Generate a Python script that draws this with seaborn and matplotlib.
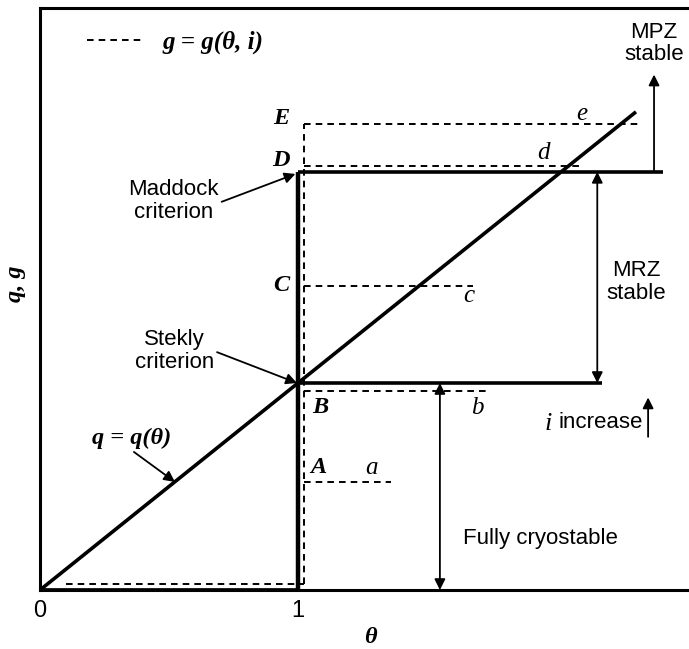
import matplotlib
matplotlib.use("Agg")
import matplotlib.pyplot as plt
from matplotlib.lines import Line2D
import seaborn as sns
import pandas as pd

# --- values -----------------------------------------------------------------
theta_ticks = [0, 1]
tick_labels = ["0", "1"]

# heat removal line q = q(theta)
q_theta = [0.0, 2.31]
q_vals = [0.0, 2.31]

stekly_level = 1.0      # Stekly criterion (B)
maddock_level = 2.02    # Maddock criterion (D)
theta_c = 1.0

# generation curves g = g(theta, i) for increasing current
g_names = ["A", "B", "C", "D", "E"]
g_tags = ["a", "b", "c", "d", "e"]
g_levels = [0.52, 0.96, 1.47, 2.05, 2.25]
g_end = [1.36, 1.73, 1.68, 2.10, 2.33]
g_base = 0.03
g_base_start = 0.10
g_jump = 1.025

# extents of the stability boundaries and zone arrows
stekly_end = 2.18
maddock_end = 2.415
mpz_x, mpz_top = 2.38, 2.49
mrz_x = 2.16
full_x = 1.55

# --- style ------------------------------------------------------------------
sns.set_theme(style="white")
plt.rcParams["font.family"] = ["Liberation Sans", "DejaVu Sans"]
plt.rcParams["text.color"] = "black"
plt.rcParams["axes.labelcolor"] = "black"
plt.rcParams["xtick.color"] = "black"
SANS = dict(family=["Liberation Sans", "DejaVu Sans"], fontsize=16,
            color="black")
SERIF = dict(family=["Liberation Serif", "DejaVu Serif"], style="italic",
             fontweight="bold", fontsize=17.5, color="black")
SERIF_LC = dict(family=["Liberation Serif", "DejaVu Serif"], style="italic",
                fontsize=18, color="black")

W, H = 689, 649
fig = plt.figure(figsize=(W / 100, H / 100), dpi=100)
x_max = 2.65
px_per_unit = 258
ax = fig.add_axes([40 / W, (H - 590) / H, x_max * px_per_unit / W, 582 / H])
ax.set_xlim(0, x_max)
ax.set_ylim(0, 582 / 207)

for side in ["left", "top", "bottom"]:
    ax.spines[side].set_color("black")
    ax.spines[side].set_linewidth(2.2)
ax.spines["right"].set_visible(False)

ax.set_xticks(theta_ticks)
ax.set_xticklabels(tick_labels, family=["Liberation Sans", "DejaVu Sans"],
                   fontsize=17, color="black")
ax.tick_params(axis="x", length=0, pad=7, colors="black")
ax.set_yticks([])

ax.set_xlabel("θ", **SERIF)
ax.xaxis.set_label_coords(1.28 / x_max, -0.063)
ax.set_ylabel("q, g", **SERIF)
ax.yaxis.set_label_coords(-0.02, 0.527)

# --- q = q(theta) -------------------------------------------------------------
sns.lineplot(data=pd.DataFrame({"theta": q_theta, "q": q_vals}),
             x="theta", y="q", ax=ax, color="black", lw=2.6,
             solid_capstyle="butt")

# --- stability boundaries (solid) ---------------------------------------------
solid = dict(color="black", lw=2.6, solid_capstyle="butt")
ax.plot([0, theta_c], [0, 0], color="black", lw=3.4, solid_capstyle="butt")
ax.plot([theta_c, theta_c], [0, maddock_level], color="black", lw=3.2,
        solid_capstyle="butt")
ax.plot([theta_c, stekly_end], [stekly_level, stekly_level], **solid)
ax.plot([theta_c, maddock_end], [maddock_level, maddock_level], **solid)

# --- generation curves (dashed) -------------------------------------------------
dash = dict(color="black", lw=1.4, dashes=(3.4, 2.6))
ax.plot([g_base_start, g_jump], [g_base, g_base], **dash)
ax.plot([g_jump, g_jump], [g_base, max(g_levels)], **dash)
for lvl, xe in zip(g_levels, g_end):
    ax.plot([g_jump, xe], [lvl, lvl], **dash)

# point labels
name_pos = [(1.08, 0.594), (1.085, 0.884), (0.934, 1.469), (0.934, 2.077),
            (0.934, 2.28)]
tag_pos = [(1.283, 0.589), (1.694, 0.879), (1.663, 1.42), (1.95, 2.11),
           (2.10, 2.30)]
for name, (x, y) in zip(g_names, name_pos):
    ax.text(x, y, name, ha="center", va="center", **SERIF)
for tag, (x, y) in zip(g_tags, tag_pos):
    ax.text(x, y, tag, ha="center", va="center", **SERIF_LC)

# --- arrows and annotations -------------------------------------------------------
one = dict(arrowstyle="-|>", color="black", lw=1.3, mutation_scale=16,
           shrinkA=0, shrinkB=0)
two = dict(arrowstyle="<|-|>", color="black", lw=1.3, mutation_scale=16,
           shrinkA=0, shrinkB=0)

ax.annotate("", xy=(mpz_x, mpz_top), xytext=(mpz_x, maddock_level),
            arrowprops=one)
ax.text(mpz_x, 2.64, "MPZ\nstable", ha="center", va="center",
        linespacing=1.12, **SANS)

ax.annotate("", xy=(mrz_x, maddock_level), xytext=(mrz_x, stekly_level),
            arrowprops=two)
ax.text(2.31, 1.49, "MRZ\nstable", ha="center", va="center",
        linespacing=1.12, **SANS)

ax.annotate("", xy=(full_x, stekly_level), xytext=(full_x, 0),
            arrowprops=two)
ax.text(1.64, 0.25, "Fully cryostable", ha="left", va="center", **SANS)

ax.annotate("", xy=(2.357, 0.93), xytext=(2.357, 0.74), arrowprops=one)
ax.text(1.97, 0.80, "i", ha="center", va="center",
        family=["Liberation Serif", "DejaVu Serif"], style="italic",
        fontsize=19, color="black")
ax.text(2.01, 0.807, "increase", ha="left", va="center", **SANS)

ax.annotate("Maddock\ncriterion", xy=(0.99, 2.01), xytext=(0.516, 1.88),
            ha="center", va="center", linespacing=1.12,
            arrowprops=dict(arrowstyle="-|>", color="black", lw=1.3,
                            mutation_scale=16, shrinkA=0, shrinkB=0,
                            relpos=(1.0, 0.45)), **SANS)
ax.annotate("Stekly\ncriterion", xy=(0.996, 1.0), xytext=(0.52, 1.155),
            ha="center", va="center", linespacing=1.12,
            arrowprops=dict(arrowstyle="-|>", color="black", lw=1.3,
                            mutation_scale=16, shrinkA=0, shrinkB=0,
                            relpos=(1.0, 0.5)), **SANS)
ax.text(0.357, 0.734, "q = q(θ)", ha="center", va="center", **SERIF)
ax.annotate("", xy=(0.523, 0.522), xytext=(0.364, 0.667), arrowprops=one)

# legend for the dashed curves
leg = ax.legend(handles=[Line2D([], [], **dash)], labels=["g = g(θ, i)"],
                loc="center left", bbox_to_anchor=(87 / W, 1 - 42 / H),
                bbox_transform=fig.transFigure, frameon=False,
                handlelength=2.2, handletextpad=0.8, borderpad=0,
                borderaxespad=0,
                prop=dict(family=["Liberation Serif", "DejaVu Serif"],
                          style="italic", weight="bold", size=18))
for t in leg.get_texts():
    t.set_color("black")

fig.savefig("out.png", dpi=100)
